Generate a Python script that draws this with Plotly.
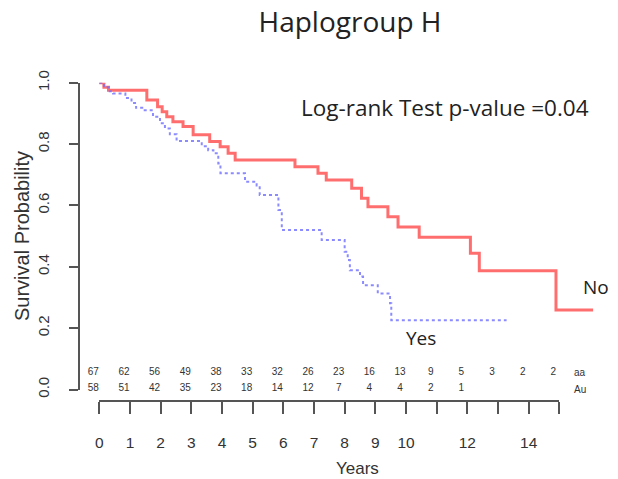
import plotly.graph_objects as go

# ---- data ----
no_t = [0, 0.15, 0.3, 1.55, 1.9, 2.05, 2.2, 2.4, 2.73, 3.06, 3.6, 3.94, 4.2, 4.43,
        6.38, 7.13, 7.4, 8.23, 8.55, 8.76, 9.41, 9.74, 10.43, 12.1, 12.39, 14.89, 16.1]
no_s = [1.0, 0.985, 0.975, 0.944, 0.922, 0.905, 0.889, 0.873, 0.857, 0.83, 0.808, 0.791,
        0.77, 0.748, 0.726, 0.705, 0.683, 0.656, 0.623, 0.596, 0.563, 0.53, 0.496, 0.444,
        0.387, 0.259, 0.259]

yes_t = [0, 0.15, 0.3, 0.45, 0.85, 1.05, 1.2, 1.4, 1.75, 1.98, 2.14, 2.3, 2.52, 3.34,
         3.55, 3.72, 3.88, 3.95, 4.75, 5.13, 5.23, 5.84, 5.95, 7.25, 8.0, 8.1, 8.17, 8.5,
         8.6, 9.08, 9.48, 9.52, 13.28]
yes_s = [1.0, 0.985, 0.972, 0.965, 0.95, 0.934, 0.918, 0.91, 0.889, 0.868, 0.851, 0.832,
         0.81, 0.793, 0.78, 0.77, 0.737, 0.705, 0.677, 0.665, 0.634, 0.585, 0.52, 0.487,
         0.449, 0.422, 0.389, 0.368, 0.34, 0.313, 0.281, 0.226, 0.226]

risk_years = list(range(16))
risk_no = ["67", "62", "56", "49", "38", "33", "32", "26", "23", "16", "13", "9", "5", "3", "2", "2"]
risk_yes = ["58", "51", "42", "35", "23", "18", "14", "12", "7", "4", "4", "2", "1", "", "", ""]

x_tickvals = list(range(16))
x_ticktext = ["0", "1", "2", "3", "4", "5", "6", "7", "8", "9", "10", "", "12", "", "14", ""]
y_tickvals = [0, 0.2, 0.4, 0.6, 0.8, 1.0]
y_ticktext = ["0.0", "0.2", "0.4", "0.6", "0.8", "1.0"]

# ---- geometry ----
W, H = 618, 479
X0PX, PXPERYR = 99.3, 30.67          # year 0 position, pixels per year
Y0PX, PXPERS = 389.5, 306.8          # S=0 position, pixels per unit S
YAXPX = 80                           # y-axis line position
XAXPX = 401                          # x-axis line position

AX = "#555555"
TXT = "#333333"
SANS = "Liberation Sans, Arial, sans-serif"
CAL = "Open Sans, sans-serif"

# main plotting area: starts at the y-axis line, spans S = 0..1 vertically
xdom = [YAXPX / W, 1.0]
xr = [(YAXPX - X0PX) / PXPERYR, (W - X0PX) / PXPERYR]
ydom = [(H - Y0PX) / H, (H - (Y0PX - PXPERS)) / H]
x2dom = [X0PX / W, (X0PX + 15 * PXPERYR) / W]

fig = go.Figure()

fig.add_trace(go.Scatter(x=no_t, y=no_s, mode="lines", line_shape="hv",
                         line=dict(color="rgba(255,85,85,0.85)", width=3),
                         hoverinfo="skip", showlegend=False))
fig.add_trace(go.Scatter(x=yes_t, y=yes_s, mode="lines", line_shape="hv",
                         line=dict(color="rgba(110,110,255,0.8)", width=2, dash="dot"),
                         hoverinfo="skip", showlegend=False))

# number-at-risk table
shift = 6 / PXPERYR
fig.add_trace(go.Scatter(x=[t - shift for t in risk_years], y=[0.055] * 16, text=risk_no,
                         mode="text", textfont=dict(family=SANS, size=10, color=TXT),
                         cliponaxis=False, hoverinfo="skip", showlegend=False))
fig.add_trace(go.Scatter(x=[t - shift for t in risk_years], y=[0.002] * 16, text=risk_yes,
                         mode="text", textfont=dict(family=SANS, size=10, color=TXT),
                         cliponaxis=False, hoverinfo="skip", showlegend=False))
# carrier for the separate years axis (no data drawn)
fig.add_trace(go.Scatter(x=[None], y=[None], mode="lines", xaxis="x2", yaxis="y",
                         hoverinfo="skip", showlegend=False))

fig.update_layout(
    width=W, height=H, autosize=False,
    margin=dict(l=0, r=0, t=0, b=0, pad=0, autoexpand=False),
    paper_bgcolor="white", plot_bgcolor="rgba(0,0,0,0)",
    xaxis=dict(domain=xdom, range=xr, visible=False, fixedrange=True, automargin=False),
    yaxis=dict(domain=ydom, range=[0, 1], anchor="x", automargin=False,
               showline=True, linecolor=AX, linewidth=1.5, showgrid=False, zeroline=False,
               ticks="outside", ticklen=9, tickwidth=1.5, tickcolor=AX,
               tickvals=y_tickvals, ticktext=y_ticktext, tickangle=-90, ticklabelstandoff=14,
               tickfont=dict(family=SANS, size=15, color=TXT), fixedrange=True),
    xaxis2=dict(domain=x2dom, range=[0, 15], anchor="free", position=(H - XAXPX) / H,
                automargin=False,
                showline=True, linecolor=AX, linewidth=1.5, showgrid=False, zeroline=False,
                ticks="outside", ticklen=12, tickwidth=1.5, tickcolor=AX,
                tickvals=x_tickvals, ticktext=x_ticktext, ticklabelstandoff=16,
                tickfont=dict(family=SANS, size=15.5, color=TXT), fixedrange=True),
    title=dict(text="Haplogroup H", x=350 / W, xanchor="center", y=1 - 22 / H,
               yanchor="middle", font=dict(family=CAL, size=28, color="#222222")),
    showlegend=False,
)

ann = [
    dict(text="Log-rank Test p-value =0.04", x=445 / W, y=1 - 108 / H,
         font=dict(family=CAL, size=22.5, color="#222222")),
    dict(text="No", x=595.5 / W, y=1 - 287 / H, font=dict(family=CAL, size=19, color="#222222")),
    dict(text="Yes", x=421 / W, y=1 - 338 / H, font=dict(family=CAL, size=19, color="#222222")),
    dict(text="Survival Probability", x=22 / W, y=1 - 236 / H, textangle=-90,
         font=dict(family=SANS, size=20, color=TXT)),
    dict(text="Years", x=357 / W, y=1 - 468 / H, font=dict(family=SANS, size=17, color=TXT)),
]
for a in ann:
    fig.add_annotation(xref="paper", yref="paper", showarrow=False,
                       xanchor="center", yanchor="middle", **a)

for txt, ypx in [("aa", 372.7), ("Au", 389.0)]:
    fig.add_annotation(xref="paper", yref="paper", x=572 / W, y=1 - ypx / H, text=txt,
                       showarrow=False, xanchor="left", yanchor="middle",
                       font=dict(family=SANS, size=10, color=TXT))

fig.write_html("out.html")
